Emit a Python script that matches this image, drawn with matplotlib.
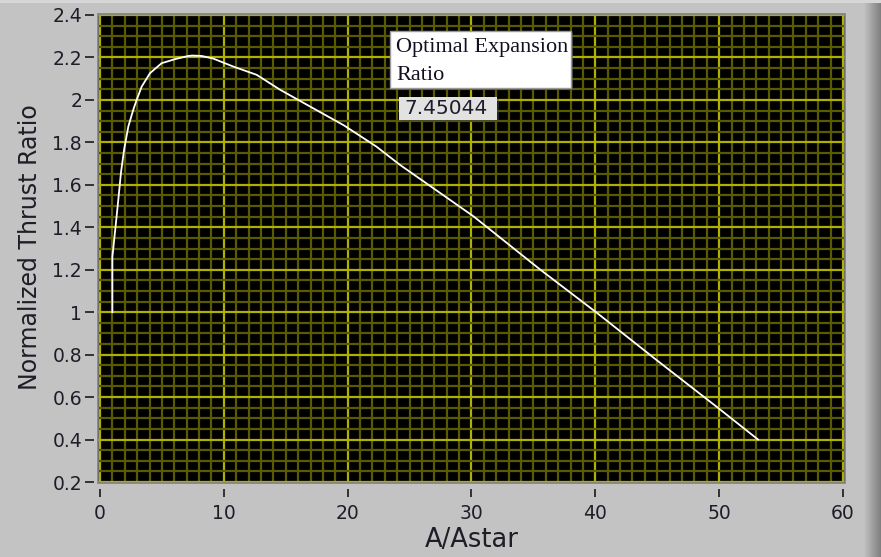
import matplotlib
matplotlib.use('Agg')
import matplotlib.pyplot as plt
from matplotlib.ticker import MultipleLocator, FuncFormatter
from matplotlib.patches import Rectangle
import numpy as np

# ---- data ----
area_ratio = [1.0, 1.0, 1.27, 1.48, 1.70, 1.96, 2.29, 2.69, 2.96, 3.37, 4.04, 4.98,
              6.06, 7.13, 7.45, 8.21, 9.13, 10.77, 12.66, 14.54, 16.96, 19.7, 22.3,
              24.2, 30.15, 35.54, 40.1, 45.0, 50.0, 53.14]
thrust_ratio = [1.0, 1.26, 1.41, 1.53, 1.66, 1.77, 1.875, 1.954, 2.0, 2.063, 2.126, 2.173,
                2.192, 2.207, 2.209, 2.207, 2.195, 2.157, 2.118, 2.048, 1.969, 1.88, 1.781,
                1.695, 1.452, 1.201, 0.998, 0.772, 0.545, 0.4]
x_ticks = [0, 10, 20, 30, 40, 50, 60]
y_ticks = [0.2, 0.4, 0.6, 0.8, 1.0, 1.2, 1.4, 1.6, 1.8, 2.0, 2.2, 2.4]
x_label = 'A/Astar'
y_label = 'Normalized Thrust Ratio'
box_title = 'Optimal Expansion\nRatio'
box_value = '7.45044'

W, H = 881, 557
fig = plt.figure(figsize=(W / 100, H / 100), dpi=100)
fig.patch.set_facecolor('#c3c3c3')

def fx(px):
    return px / W

def fy(py):
    return 1 - py / H

# plot area
ax = fig.add_axes([fx(98), fy(483), (845 - 98) / W, (483 - 14) / H])
ax.set_facecolor('black')
ax.set_xlim(-0.16, 60.16)
ax.set_ylim(0.1953, 2.4047)
ax.set_xticks(x_ticks)
ax.set_yticks(y_ticks)
ax.xaxis.set_minor_locator(MultipleLocator(1))
ax.yaxis.set_minor_locator(MultipleLocator(0.05))
ax.yaxis.set_major_formatter(FuncFormatter(lambda v, p: f'{v:g}'))
ax.grid(which='minor', color='#5a5a00', lw=1.6, zorder=0)
ax.grid(which='major', color='#b0b000', lw=1.6, zorder=0)
ax.set_axisbelow(True)

for name, s in ax.spines.items():
    s.set_visible(False)
ax.spines['left'].set_position(('outward', 3))
ax.spines['bottom'].set_position(('outward', 4))

ax.tick_params(which='minor', length=0)
ax.tick_params(axis='y', which='major', direction='out', length=6.5, width=1.4,
               color='#333333', pad=2, labelsize=13.5, labelcolor='#1e1e28',
               right=False)
ax.tick_params(axis='x', which='major', direction='out', length=6, width=1.4,
               color='#333333', pad=5, labelsize=13.5, labelcolor='#1e1e28',
               top=False)

# frame around plot area
ax.add_patch(Rectangle((0, 0), 1, 1, transform=ax.transAxes, fill=False,
                       edgecolor='#808080', lw=1.2, zorder=5, clip_on=False))

ax.plot(area_ratio, thrust_ratio, color='white', lw=1.3, zorder=3)

# axis labels
fig.text(fx(472), fy(540), x_label, ha='center', va='center', fontsize=18.5,
         color='#1e1e28')
fig.text(fx(30), fy(247), y_label, ha='center', va='center', rotation=90,
         fontsize=17, color='#1e1e28')

# annotation boxes
fig.patches.append(Rectangle((fx(392), fy(90)), (571 - 390) / W, (88 - 31) / H,
                             transform=fig.transFigure, facecolor='#555555',
                             edgecolor='none', alpha=0.6, zorder=10))
fig.patches.append(Rectangle((fx(390), fy(88)), (571 - 390) / W, (88 - 31) / H,
                             transform=fig.transFigure, facecolor='white',
                             edgecolor='#9a9a9a', lw=1, zorder=11))
for line, base in zip(box_title.split('\n'), [52, 80]):
    fig.text(fx(396), fy(base), line, ha='left', va='baseline', fontsize=16,
             family='Liberation Serif', color='#101020', zorder=12)

fig.patches.append(Rectangle((fx(401), fy(122)), (497 - 399) / W, (120 - 97) / H,
                             transform=fig.transFigure, facecolor='#444444',
                             edgecolor='none', alpha=0.5, zorder=10))
fig.patches.append(Rectangle((fx(399), fy(120)), (497 - 399) / W, (120 - 97) / H,
                             transform=fig.transFigure, facecolor='#e2e2e2',
                             edgecolor='none', zorder=11))
fig.text(fx(446), fy(109), box_value, ha='center', va='center', fontsize=14.5,
         color='#1e1e28', zorder=12)

# light top strip and right-side shading of the panel
fig.patches.append(Rectangle((0, fy(3)), 1, 3 / H, transform=fig.transFigure,
                             facecolor='#d6d6d6', edgecolor='none', zorder=1))
grad_ax = fig.add_axes([fx(864), 0, (W - 864) / W, 1])
grad_ax.imshow(np.linspace(0.76, 0.5, 32)[None, :], cmap='gray', vmin=0, vmax=1,
               aspect='auto', extent=[0, 1, 0, 1])
grad_ax.axis('off')

fig.savefig('out.png', dpi=100, facecolor=fig.get_facecolor())
